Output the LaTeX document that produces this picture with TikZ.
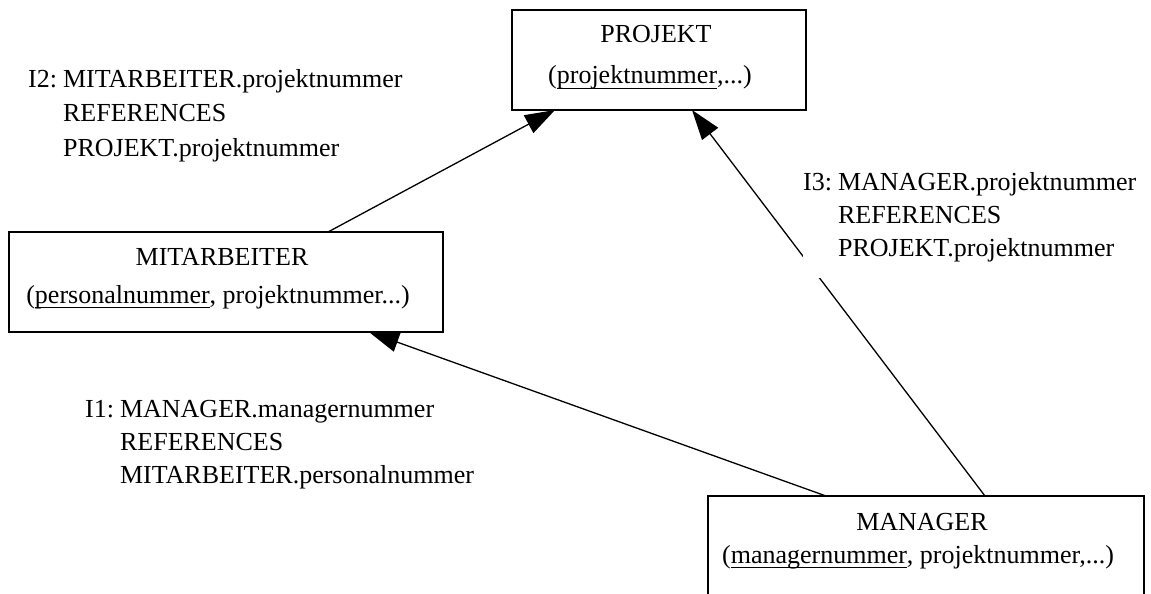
\documentclass[tikz,border=0pt]{standalone}
\usepackage{fontspec}
\setmainfont{Liberation Serif}
\usetikzlibrary{arrows.meta}
% primary key: word with a rule just under the baseline
\newcommand\keyattr[1]{\setbox0\hbox{#1}\rlap{\rule[-5pt]{\wd0}{1.3pt}}\box0}
\begin{document}
\begin{tikzpicture}[x=1pt,y=-1pt,
  entity/.style={draw, line width=1.6pt, rectangle, inner sep=0pt, outer sep=0pt, anchor=north west},
  caption/.style={anchor=base, inner sep=0pt, font=\fontsize{26}{33}\selectfont},
  constraint/.style={anchor=base west, inner sep=0pt, font=\fontsize{26}{33}\selectfont},
  fk/.style={line width=1.3pt, -{Triangle[length=30pt,width=20pt]}}]
\useasboundingbox (0,0) rectangle (1151,594);
\clip (0,0) rectangle (1151,594);

% relations
\node[entity, minimum width=294pt, minimum height=100pt] (projekt) at (512,10) {};
\node[entity, minimum width=434pt, minimum height=100pt] (mitarbeiter) at (9,232) {};
\node[entity, minimum width=436pt, minimum height=140pt] (manager) at (708,496) {};

\node[caption] (projekt-name) at (656,43) {PROJEKT};
\node[caption] (projekt-attr) at (650,84) {(\keyattr{projektnummer},...)};
\node[caption] (mitarbeiter-name) at (222,265) {MITARBEITER};
\node[caption] (mitarbeiter-attr) at (218,303) {(\keyattr{personalnummer}, projektnummer...)};
\node[caption] (manager-name) at (922,530) {MANAGER};
\node[caption] (manager-attr) at (918,563) {(\keyattr{managernummer}, projektnummer,...)};

% foreign keys
\draw[fk] ([xshift=319pt]mitarbeiter.north west) -- ([xshift=43pt]projekt.south west);
\draw[fk] ([xshift=277pt]manager.north west) -- ([xshift=180pt]projekt.south west);
\draw[fk] ([xshift=118pt]manager.north west) -- ([xshift=360pt]mitarbeiter.south west);

% constraint texts
\node[constraint] (i2) at (28,87) {\begin{tabular}[t]{@{}l@{\hspace{6pt}}l@{}}
  I2: & MITARBEITER.projektnummer\\[2pt]
      & REFERENCES\\[2pt]
      & PROJEKT.projektnummer
\end{tabular}};
\node[constraint, fill=white, inner ysep=12pt] (i3) at (803,190) {\begin{tabular}[t]{@{}l@{\hspace{6pt}}l@{}}
  I3: & MANAGER.projektnummer\\
      & REFERENCES\\
      & PROJEKT.projektnummer
\end{tabular}};
\node[constraint] (i1) at (85,417) {\begin{tabular}[t]{@{}l@{\hspace{6pt}}l@{}}
  I1: & MANAGER.managernummer\\
      & REFERENCES\\
      & MITARBEITER.personalnummer
\end{tabular}};
\end{tikzpicture}
\end{document}
